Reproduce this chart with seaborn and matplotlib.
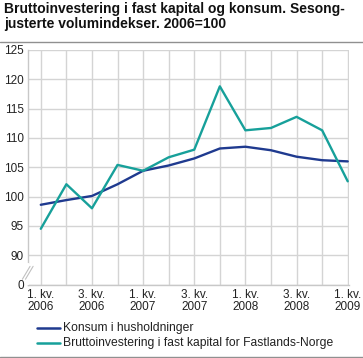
import matplotlib
matplotlib.use("Agg")
import matplotlib.pyplot as plt
import seaborn as sns
import pandas as pd
import numpy as np

quarters = ["1. kv.\n2006", "2. kv.\n2006", "3. kv.\n2006", "4. kv.\n2006",
            "1. kv.\n2007", "2. kv.\n2007", "3. kv.\n2007", "4. kv.\n2007",
            "1. kv.\n2008", "2. kv.\n2008", "3. kv.\n2008", "4. kv.\n2008",
            "1. kv.\n2009"]
konsum = [98.6, 99.4, 100.1, 102.1, 104.4, 105.3, 106.5, 108.2, 108.5, 107.9, 106.8, 106.2, 106.0]
brutto = [94.5, 102.1, 98.0, 105.4, 104.4, 106.7, 108.0, 118.8, 111.3, 111.7, 113.6, 111.3, 102.6]
series_names = ["Konsum i husholdninger", "Bruttoinvestering i fast kapital for Fastlands-Norge"]
ytick_vals = [85, 90, 95, 100, 105, 110, 115, 120, 125]
ytick_labels = ["0", "90", "95", "100", "105", "110", "115", "120", "125"]
title = "Bruttoinvestering i fast kapital og konsum. Sesong-\njusterte volumindekser. 2006=100"

sns.set_theme(style="white")
plt.rcParams['font.family'] = ['Liberation Sans', 'DejaVu Sans']

df = pd.DataFrame({
    "pos": list(range(len(quarters))) * 2,
    "value": konsum + brutto,
    "serie": [series_names[0]] * len(konsum) + [series_names[1]] * len(brutto),
})

fig = plt.figure(figsize=(3.63, 3.58), dpi=100)
ax = fig.add_axes([28/363, 1 - 284.5/358, (349 - 28)/363, (284.5 - 50)/358])

colors = {series_names[0]: "#1f3a8f", series_names[1]: "#17a09a"}
sns.lineplot(data=df, x="pos", y="value", hue="serie", palette=colors, ax=ax,
             linewidth=1.7, legend=False, zorder=3)

ax.set_xlim(-0.5, 12.05)
ax.set_ylim(85, 125)
ax.set_xticks(range(len(quarters)))
ax.set_xticklabels([q if i % 2 == 0 else "" for i, q in enumerate(quarters)],
                   fontsize=8.5, color="#222222", linespacing=1.0)
ax.set_yticks(ytick_vals)
ax.set_yticklabels(ytick_labels, fontsize=8.5, color="#222222")
ax.tick_params(axis="both", length=0, pad=3)
ax.grid(True, color="#d4d4d4", linewidth=1.0)
ax.set_axisbelow(True)
ax.set_xlabel("")
ax.set_ylabel("")
for s in ["top", "right"]:
    ax.spines[s].set_visible(False)
ax.spines["left"].set_color("#c8c8c8")
ax.spines["bottom"].set_color("#c8c8c8")
ax.spines["left"].set_linewidth(1.0)
ax.spines["bottom"].set_linewidth(1.0)

# axis break: blank the spine and draw two diagonal marks
ax.add_line(plt.Line2D([-0.5, -0.5], [85.3, 88.4], color="white", linewidth=3,
                       clip_on=False, zorder=4))
for dx in (0.0, 0.12):
    ax.add_line(plt.Line2D([-0.72 + dx, -0.42 + dx], [85.9, 88.1], color="#c0c0c0",
                           linewidth=0.8, clip_on=False, zorder=5))

# title
fig.text(4/363, 1 - 2/358, title, ha="left", va="top", fontsize=10.0,
         fontweight="bold", color="#111111", linespacing=1.12)
fig.add_artist(plt.Line2D([0, 1], [1 - 41.5/358, 1 - 41.5/358], color="#909090",
                          linewidth=1.0, transform=fig.transFigure))
fig.add_artist(plt.Line2D([0, 1], [1 - 356.5/358, 1 - 356.5/358], color="#909090",
                          linewidth=1.0, transform=fig.transFigure))

# legend
for i, name in enumerate(series_names):
    yy = 1 - (328 + i * 15) / 358
    fig.add_artist(plt.Line2D([37/363, 60/363], [yy, yy], color=colors[name],
                              linewidth=1.8, transform=fig.transFigure))
    fig.text(63/363, yy, name, ha="left", va="center", fontsize=8.7, color="#222222")

fig.savefig("out.png", dpi=100)
